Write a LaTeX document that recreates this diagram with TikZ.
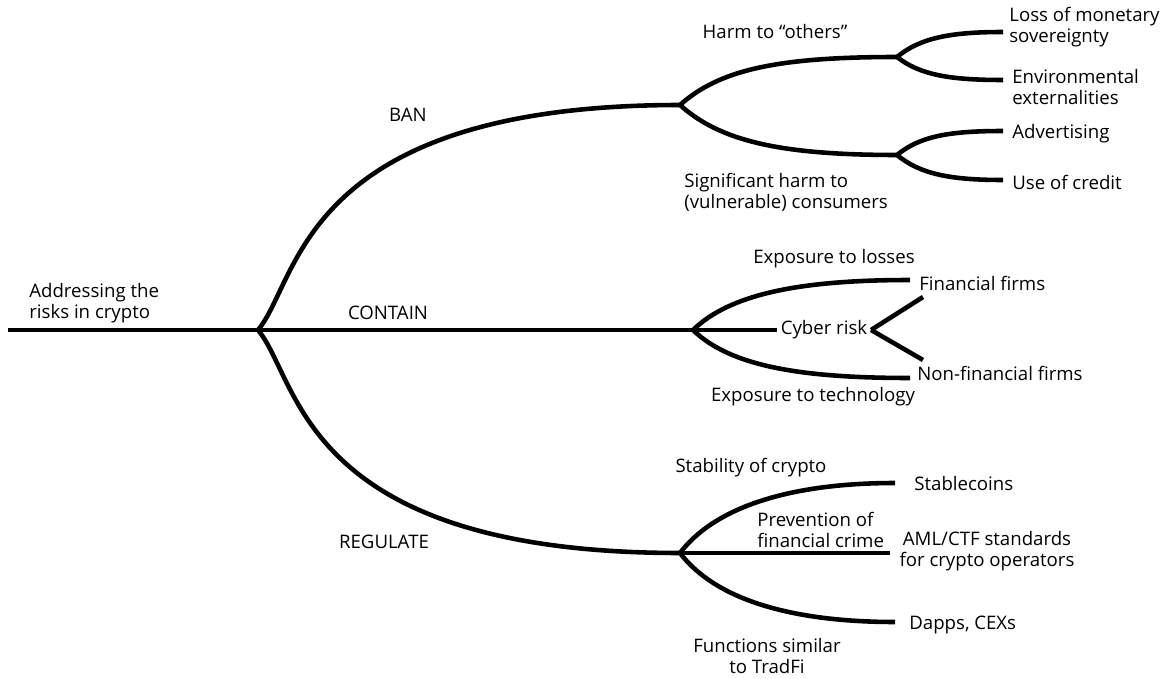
\documentclass[tikz,border=0pt]{standalone}
\usepackage{fontspec}
\setmainfont{Open Sans}

\tikzset{
  branch/.style={line width=2.6pt},
  lbl/.style={inner sep=0pt, font=\fontsize{10.6}{12}\selectfont},
}

\begin{document}
\begin{tikzpicture}[x=0.02cm,y=-0.02cm]
  \useasboundingbox (0,0) rectangle (1164,679);

  % split points and loose ends
  \coordinate (sstart) at (8,330);
  \coordinate (sroot) at (258,330);
  \coordinate (sban) at (680,105);
  \coordinate (scont) at (693,330);
  \coordinate (sreg) at (680,553);
  \coordinate (sharm) at (897,57);
  \coordinate (ssig) at (897,155);
  \coordinate (eloss) at (1003,32);
  \coordinate (eenv) at (1003,80);
  \coordinate (eadv) at (1003,131);
  \coordinate (ecred) at (1003,180);
  \coordinate (elosses) at (910,280);
  \coordinate (etech) at (910,378);
  \coordinate (efin) at (923,297);
  \coordinate (enonfin) at (923,360);
  \coordinate (estab) at (895,483);
  \coordinate (eaml) at (890,553);
  \coordinate (edapps) at (895,622);

  % labels
  \path (29,303) node[lbl,anchor=west,align=left] (nroot) {Addressing the\\risks in crypto};
  \path (408,115) node[lbl] (nban) {BAN};
  \path (388,313) node[lbl] (ncontain) {CONTAIN};
  \path (384,542) node[lbl] (nregulate) {REGULATE};

  \path (775,32) node[lbl] (nharm) {Harm to “others”};
  \path (684,192) node[lbl,anchor=west,align=left] (nsig) {Significant harm to\\(vulnerable) consumers};
  \path (1009,27) node[lbl,anchor=west,align=left] (nloss) {Loss of monetary\\sovereignty};
  \path (1012,87) node[lbl,anchor=west,align=left] (nenv) {Environmental\\externalities};
  \path (1012,134) node[lbl,anchor=west] (nadv) {Advertising};
  \path (1012,182) node[lbl,anchor=west] (ncred) {Use of credit};

  \path (834,259) node[lbl] (nlosses) {Exposure to losses};
  \path (824,330) node[lbl,inner xsep=2pt] (ncyber) {Cyber risk};
  \path (919,283) node[lbl,anchor=west] (nfin) {Financial firms};
  \path (917,373) node[lbl,anchor=west] (nnonfin) {Non-financial firms};
  \path (813,397) node[lbl] (ntech) {Exposure to technology};

  \path (751,468) node[lbl] (nstab) {Stability of crypto};
  \path (757,530) node[lbl,anchor=west,align=left] (nprev) {Prevention of\\financial crime};
  \path (914,484) node[lbl,anchor=west] (nstable) {Stablecoins};
  \path (987,551) node[lbl,align=center] (naml) {AML/CTF standards\\for crypto operators};
  \path (909,625) node[lbl,anchor=west] (ndapps) {Dapps, CEXs};
  \path (767,656) node[lbl,align=center] (nfunc) {Functions similar\\to TradFi};

  % first level
  \draw[branch] (sstart) -- (sroot);
  \draw[branch] (sroot) .. controls +(42,-50) and +(-380,0) .. (sban);
  \draw[branch] (sroot) -- (scont);
  \draw[branch] (sroot) .. controls +(42,50) and +(-380,0) .. (sreg);

  % ban
  \draw[branch] (sban) .. controls +(40,-36) and +(-117,0) .. (sharm);
  \draw[branch] (sban) .. controls +(40,36) and +(-117,0) .. (ssig);
  \draw[branch] (sharm) .. controls +(23,-19) and +(-53,0) .. (eloss);
  \draw[branch] (sharm) .. controls +(23,18) and +(-53,0) .. (eenv);
  \draw[branch] (ssig) .. controls +(23,-19) and +(-53,0) .. (eadv);
  \draw[branch] (ssig) .. controls +(23,19) and +(-53,0) .. (ecred);

  % contain
  \draw[branch] (scont) .. controls +(37,-36) and +(-110,0) .. (elosses);
  \draw[branch] (scont) .. controls +(37,36) and +(-110,0) .. (etech);
  \draw[branch] (scont) -- (ncyber.west);
  \draw[branch] (ncyber.east) -- (efin);
  \draw[branch] (ncyber.east) -- (enonfin);

  % regulate
  \draw[branch] (sreg) .. controls +(35,-46) and +(-105,0) .. (estab);
  \draw[branch] (sreg) -- (eaml);
  \draw[branch] (sreg) .. controls +(35,46) and +(-105,0) .. (edapps);

\end{tikzpicture}
\end{document}
